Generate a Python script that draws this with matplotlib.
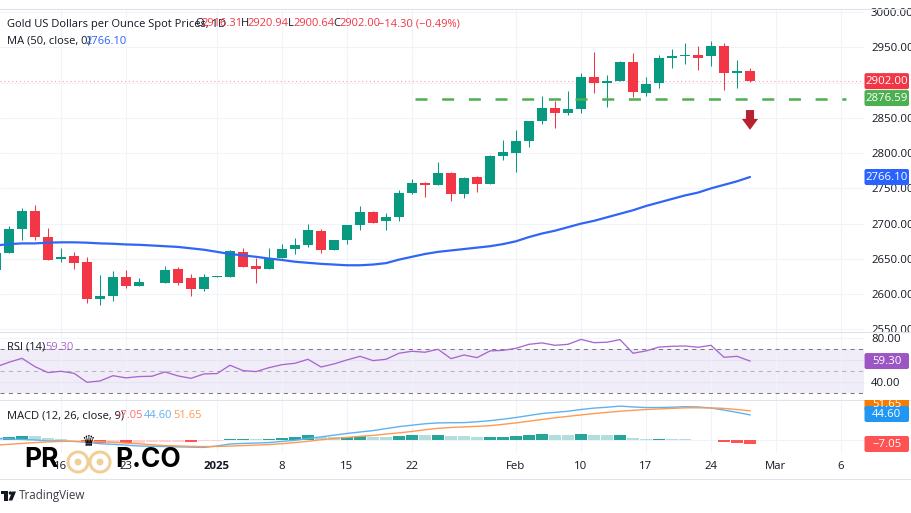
import matplotlib
matplotlib.use("Agg")
import matplotlib.pyplot as plt
from matplotlib.patches import FancyBboxPatch, Circle, Rectangle, Polygon
from matplotlib.lines import Line2D
from matplotlib.transforms import IdentityTransform, Bbox

W, H = 912, 513
FONT = "Open Sans"
plt.rcParams["font.family"] = [FONT, "DejaVu Sans"]

opens = [2634,2658.5,2693,2718,2681,2649.5,2654,2645,2593,2597.5,2624,2612,2618,2616.4,2635.8,2622.5,2608,2624.5,2624.4,2660.3,2640,2635.3,2651,2664,2670.2,2690,2663,2677,2697.6,2717,2703.8,2710,2743,2757.7,2755,2772,2742,2765.7,2756.2,2796.4,2799.7,2817.7,2845.5,2863.5,2857.3,2863,2908.3,2899.4,2902,2929.6,2884.7,2898.9,2935.3,2937,2938.6,2938,2951.8,2914,2916.31]
highs = [2660,2696,2722,2727,2693.4,2665,2659.4,2653,2627,2633.4,2634,2623.5,2619,2640,2639,2628,2628,2626,2662,2666,2651,2665,2671,2679,2699.5,2693,2677.5,2698,2725.5,2717.5,2714.6,2747,2763,2759.5,2787.4,2772.8,2765.5,2767.6,2798,2818.6,2832.8,2846,2881,2874,2888.5,2914,2943.8,2910.2,2930,2941.4,2907.4,2939,2947.5,2956.5,2951.8,2958.4,2955.6,2932,2920.94]
lows = [2632,2658,2677,2677,2648,2645,2635,2588,2585,2591,2609,2612,2618,2616,2613,2598,2604,2624,2624,2638,2615.5,2635,2650.9,2657,2666.5,2659,2662,2671,2691,2701,2691,2704,2742.5,2737.3,2754.3,2731.7,2736,2745.4,2755.8,2790.3,2773.7,2808.2,2841.3,2836,2854,2857.3,2884.7,2865.8,2901.5,2879,2881,2892.7,2920,2926.3,2917.8,2923.5,2889.4,2892.7,2900.64]
closes = [2658,2692.5,2718,2681,2649,2653,2644,2593,2597.5,2624.5,2612,2617.5,2619,2634.3,2616.4,2608,2624,2625.5,2661,2638.6,2635.3,2651.3,2664,2670,2691,2663,2677,2697.6,2716.5,2701.4,2710,2743,2757,2755,2771.4,2742,2765,2756.2,2796.4,2802,2817.7,2845.5,2863.5,2857.3,2862.5,2908.3,2899,2902.7,2929.6,2886,2898.4,2934.3,2937,2938.6,2935.3,2951.8,2914,2916.8,2902.00]
ma50 = [2669,2671,2672,2672,2673,2673.5,2673.5,2673,2672,2671.5,2670.5,2670,2669,2668,2667,2665,2663,2660,2657,2655,2653,2650.5,2648.5,2646,2644.5,2643,2642,2641,2641,2642,2644,2649,2653,2657,2660,2662,2664,2666,2668,2671,2675,2681,2686,2690,2695,2700,2704,2709,2714,2719,2725,2730,2735,2740,2744,2750,2755,2760,2766.1]
rsi = [54,58.2,61.8,54.2,48.8,50,48.2,40,41.2,46,44,45.2,45.5,49.4,45.8,43.6,47.6,47.9,55.5,50.6,49.7,53.3,56,57.3,60.9,53.9,56.7,60.3,63.6,59.7,60.9,66.4,68.2,67.3,70,61.5,64.8,62.4,68.5,69,70.9,74.5,75.8,73.6,74.5,79,76,76.4,78.8,66.4,68.5,72,72.7,73,71.8,73.6,62.7,63.6,59.3]
macd = [3.5,2.5,1.5,0.5,-1,-1,-2,-3.5,-6,-7,-8.5,-10,-10.5,-11,-11.5,-12,-12.5,-10,-6.5,-5.5,-4.8,-4,-2,0,3,6,9,12,14.5,17,20.5,24,26.5,29,30.5,30.8,31,32.5,34.4,37,40,43.5,47,49,51,54,56.5,58,60,58.5,57.5,57.5,58,59,58.5,56.6,53,49,44.6]
signal = [-8.5,-7,-5.5,-4,-2.8,-2,-1.8,-2,-2.5,-3.5,-5,-6.2,-7.8,-9.3,-10,-10.7,-11,-10.8,-10.2,-9.3,-8.4,-7.5,-6,-4,-1.8,1,3,5,7,8.5,11,13,15.5,18.5,21,22.5,23.5,24.5,25.6,28,30.5,33.5,36.5,39.5,42,44.5,47,49,51,52.5,54,55,56,57,57,56.8,56,54,51.65]
hist = [3.5,5.8,8.2,7,3.5,1.8,0.5,-2.3,-4.7,-2.3,-4.7,-4,-3.5,-3.2,-2.5,-2.6,-1.5,-1,3,3,1.5,3,4.7,5.8,8.8,5.3,5,5.3,7,5.8,6.4,8.2,10,9.9,10,7.6,7.6,5.3,6.4,6.4,7.6,10,10.5,9.4,9.4,11,9.4,9.4,10,4.7,2.3,3,2.3,2.3,1,0.5,-2.4,-4.7,-7.05]
hist_strong = [0,1,1,0,0,0,0,1,1,0,1,0,0,0,0,1,0,0,1,1,0,1,1,1,1,0,0,1,1,0,0,1,1,0,1,0,0,0,1,1,1,1,1,0,0,1,0,0,1,0,0,1,0,0,0,0,1,1,1]

level_support = 2876.59
last_close = 2902.00
price_ticks = [3000,2950,2850,2800,2750,2700,2650,2600,2550]
price_grid = [3000,2950,2900,2850,2800,2750,2700,2650,2600,2550]
rsi_ticks = [80,40]
date_pos = [5,10,17,22,27,32,40,45,50,55,60,65]
date_labels = ["16","23","2025","8","15","22","Feb","10","17","24","Mar","6"]

for s in (opens, highs, lows, closes, ma50, rsi, macd, signal, hist, hist_strong):
    assert len(s) == 59, len(s)

GREEN, RED = "#089981", "#f23645"
GRID = "#f0f3fa"
SEP = "#e0e3eb"
TXT = "#131722"
idx = list(range(59))

fig = plt.figure(figsize=(W/100, H/100), dpi=100, facecolor="white")

def pane(top, bottom):
    return fig.add_axes([0, 1-bottom/H, 864/W, (bottom-top)/H])

ax = pane(9, 332)
ar = pane(332, 400)
am = pane(400, 453)
xlim = (4/13, 868/13)
for a in (ax, ar, am):
    a.set_xlim(*xlim)
    a.set_facecolor("none")
    for s in a.spines.values():
        s.set_visible(False)
    a.set_xticks(date_pos)
    a.grid(axis="x", color=GRID, lw=0.8)
    a.set_axisbelow(True)
    a.yaxis.tick_right()
    a.tick_params(length=0, labelsize=8.2, labelcolor=TXT, pad=5)
    a.set_xticklabels([])

# main pane
ax.set_ylim(2546.4, 3004.25)
ax.set_yticks(price_ticks)
ax.set_yticklabels([f"{v:.2f}" for v in price_ticks])
ax.hlines(price_grid, *xlim, color=GRID, lw=0.8, zorder=0)
for i in idx:
    col = GREEN if closes[i] >= opens[i] else RED
    ax.vlines(i, lows[i], highs[i], color=col, lw=0.75, zorder=2)
    ax.bar(i, max(abs(closes[i]-opens[i]), 1.0), bottom=min(opens[i], closes[i]),
           width=0.8, color=col, zorder=3, lw=0)
ax.plot(idx, ma50, color="#2f66f5", lw=1.6, zorder=4, solid_capstyle="round")
ax.axhline(last_close, color=RED, lw=0.8, alpha=0.45, dashes=(1, 2.5), zorder=1)
ax.plot([32.2, 65.4], [level_support]*2, color="#4caf50", lw=1.8,
        dashes=(4.8, 5.87), dash_capstyle="butt", zorder=5)
ax.arrow(58, 2861, 0, -28, width=0.62, head_width=1.25, head_length=15.5,
         length_includes_head=True, color="#b7222f", lw=0, zorder=6)

# RSI pane
ar.set_ylim(23.9, 85.7)
ar.set_yticks(rsi_ticks)
ar.set_yticklabels([f"{v:.2f}" for v in rsi_ticks])
ar.hlines([80, 60, 40], *xlim, color=GRID, lw=0.8, zorder=0)
ar.axhspan(30, 70, color="#7e57c2", alpha=0.1, lw=0, zorder=0)
for lv in (70, 50, 30):
    ar.axhline(lv, color="#787b86", lw=0.75, dashes=(4, 4), zorder=1, alpha=0.5 if lv == 50 else 1)
ar.plot(idx, rsi, color="#a668cf", lw=0.95, zorder=3)

# MACD pane
am.set_ylim(-22.3, 70.7)
am.set_yticks([])
am.hlines([0], *xlim, color=GRID, lw=0.8, zorder=0)
for i in idx:
    if hist[i] >= 0:
        c = "#26a69a" if hist_strong[i] else "#b2dfdb"
    else:
        c = "#ff5252" if hist_strong[i] else "#ffcdd2"
    am.bar(i, hist[i], width=0.92, color=c, lw=0, zorder=2)
am.plot(idx, macd, color="#5fb2f2", lw=1.0, zorder=3)
am.plot(idx, signal, color="#ff9a52", lw=1.0, zorder=3)
am.set_xticklabels(date_labels)
am.tick_params(axis="x", pad=6, labelsize=8.2)
for lab, txt in zip(am.get_xticklabels(), date_labels):
    if txt == "2025":
        lab.set_fontweight("bold")

# pane separators
for y, x1 in ((9, W), (332, W), (400, W), (479, W)):
    fig.add_artist(Line2D([0, x1/W], [1-y/H]*2, color=SEP, lw=0.8))

I = IdentityTransform()
def px_y(y):
    return H - y

def tag(y, text, col, clip=None):
    p = FancyBboxPatch((864.5, px_y(y)-8), 44.5, 16, boxstyle="round,pad=0,rounding_size=2",
                       fc=col, ec="none", transform=I, zorder=10)
    fig.add_artist(p)
    t = fig.text(886.7, px_y(y)-0.5, text, color="white", fontsize=8.2, ha="center", va="center",
                 transform=I, zorder=11)
    if clip:
        box = Bbox([[860, px_y(clip[1])], [912, px_y(clip[0])]])
        p.set_clip_box(box); p.set_clip_on(True)
        t.set_clip_box(box); t.set_clip_on(True)

def data_y(a, v):
    return H - a.transData.transform((0, v))[1]

tag(data_y(ax, last_close), f"{last_close:.2f}", RED)
tag(data_y(ax, level_support)-1, f"{level_support:.2f}", "#4caf50")
tag(data_y(ax, ma50[-1]), f"{ma50[-1]:.2f}", "#2962ff")
tag(data_y(ar, rsi[-1]), f"{rsi[-1]:.2f}", "#9c56c4")
tag(404, f"{signal[-1]:.2f}", "#f57c00", clip=(400, 410))
tag(414, f"{macd[-1]:.2f}", "#2196f3")
tag(444, "\u22127.05", "#ff5252")

def label(x, y, s, col=TXT, **kw):
    kw.setdefault("fontsize", 8)
    return fig.text(x, px_y(y), s, color=col, va="center", ha="left", transform=I, zorder=12, **kw)

label(7, 24, "Gold US Dollars per Ounce Spot Prices, 1D")
label(195, 24, "O"); label(201, 24, "2916.31", RED)
label(241, 24, "H"); label(247.5, 24, "2920.94", RED)
label(288, 24, "L"); label(293, 24, "2900.64", RED)
label(333, 24, "C"); label(339, 24, "2902.00", RED)
label(378, 24, "\u221214.30 (\u22120.49%)", RED)
label(7, 41, "MA (50, close, 0)")
label(85, 41, "2766.10", "#2962ff")
label(7, 347, "RSI (14)")
label(45, 347, "59.30", "#a668cf")
label(7, 416, "MACD (12, 26, close, 9)")
label(114, 416, "\u22127.05", "#ff6f6f")
label(144, 416, "44.60", "#5fb2f2")
label(173, 416, "51.65", "#ff9a52")

# watermark
WM = "#000000"
label(24, 460, "PR", WM, fontsize=19, fontweight="bold", family="Inter")
label(115, 460, "P.CO", WM, fontsize=19, fontweight="bold", family="Inter")
for cx in (78, 100):
    fig.add_artist(Circle((cx, px_y(462)), 10, fc="none", ec="#f0cf98", lw=2.2, transform=I, zorder=13))
    fig.add_artist(Circle((cx, px_y(462)), 3.5, fc="#f0cf98", ec="none", transform=I, zorder=13))
fig.text(88.5, px_y(441.5), "\u265b", color="black", fontsize=11, ha="center", va="center",
         family="DejaVu Sans", transform=I, zorder=13)

# TradingView footer
LOGO = "#131722"
fig.add_artist(Rectangle((1, px_y(494)), 6.8, 3.2, fc=LOGO, ec="none", transform=I))
fig.add_artist(Rectangle((4.2, px_y(500.5)), 3.6, 9, fc=LOGO, ec="none", transform=I))
fig.add_artist(Circle((10.4, px_y(493)), 1.7, fc=LOGO, ec="none", transform=I))
fig.add_artist(Polygon([(12.3, px_y(491.5)), (16, px_y(491.5)), (12.3, px_y(500.5)), (8.6, px_y(500.5))],
                       fc=LOGO, ec="none", transform=I))
label(19, 496, "TradingView", "#3a3e48", fontsize=8.4)

fig.savefig("out.png", dpi=100, facecolor="white")
